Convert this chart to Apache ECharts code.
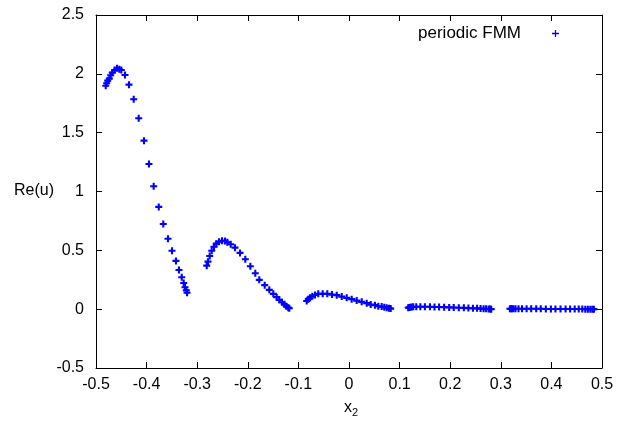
<!DOCTYPE html>
<html><head><meta charset="utf-8">
<script src="https://cdn.jsdelivr.net/npm/echarts@6/dist/echarts.min.js"></script>
<style>html,body{margin:0;padding:0;background:#fff}#c{width:634px;height:427px}</style>
</head><body><div id="c"></div>
<script>
// Segment 1
const x1 = [-0.4808,-0.4789,-0.4769,-0.4737,-0.4710,-0.4678,-0.4630,-0.4585,-0.4540,-0.4500,-0.4427,-0.4348,-0.4255,-0.4156,-0.4051,-0.3953,-0.3860,-0.3760,-0.3670,-0.3577,-0.3498,-0.3420,-0.3360,-0.3306,-0.3267,-0.3241,-0.3215,-0.3200];
const y1 = [1.899,1.920,1.942,1.959,1.988,2.010,2.033,2.047,2.039,2.033,1.990,1.908,1.784,1.622,1.432,1.234,1.045,0.869,0.724,0.599,0.497,0.410,0.333,0.271,0.223,0.186,0.160,0.140];
// Segment 2
const x2 = [-0.2812,-0.2787,-0.2753,-0.2713,-0.2668,-0.2623,-0.2569,-0.2510,-0.2451,-0.2405,-0.2338,-0.2253,-0.2154,-0.2049,-0.1950,-0.1852,-0.1773,-0.1666,-0.1575,-0.1496,-0.1429,-0.1378,-0.1324,-0.1279,-0.1239,-0.1200,-0.1180];
const y2 = [0.370,0.404,0.452,0.497,0.531,0.557,0.574,0.582,0.580,0.569,0.552,0.523,0.478,0.424,0.365,0.305,0.249,0.204,0.164,0.130,0.102,0.079,0.059,0.042,0.025,0.013,0.008];
// Segment 3
const x3 = [-0.0836,-0.0804,-0.0771,-0.0725,-0.0672,-0.0607,-0.0520,-0.0429,-0.0336,-0.0243,-0.0144,-0.0045,0.0053,0.0152,0.0251,0.0350,0.0429,0.0514,0.0579,0.0646,0.0698,0.0745,0.0790,0.0824];
const y3 = [0.070,0.085,0.098,0.110,0.121,0.130,0.130,0.130,0.124,0.119,0.107,0.096,0.085,0.073,0.062,0.051,0.039,0.034,0.025,0.022,0.017,0.011,0.008,0.005];
// Segment 4
const x4 = [0.117,0.119,0.121,0.124,0.127,0.133,0.141,0.150,0.160,0.169,0.178,0.188,0.198,0.207,0.217,0.227,0.236,0.245,0.253,0.260,0.266,0.271,0.276,0.279,0.281];
const y4 = [0.012,0.015,0.017,0.019,0.020,0.021,0.021,0.021,0.020,0.019,0.018,0.017,0.015,0.014,0.012,0.011,0.009,0.008,0.007,0.005,0.004,0.003,0.002,0.001,0.000];
// Segment 5
const x5 = [0.318,0.320,0.322,0.325,0.329,0.335,0.342,0.351,0.360,0.370,0.379,0.389,0.399,0.408,0.418,0.428,0.437,0.446,0.454,0.461,0.467,0.472,0.477,0.481,0.484];
const y5 = [0.003,0.004,0.004,0.004,0.004,0.004,0.004,0.003,0.003,0.003,0.003,0.002,0.002,0.002,0.002,0.001,0.001,0.001,0.001,0.001,0.000,0.000,0.000,0.000,0.000];

const xTicks = {min:-0.5, max:0.5, interval:0.1};
const yTicks = {min:-0.5, max:2.5, interval:0.5};

const segs = [[x1,y1],[x2,y2],[x3,y3],[x4,y4],[x5,y5]];
const data = [];
segs.forEach(([xs,ys]) => xs.forEach((x,i) => data.push([x, ys[i]])));

const plus = 'path://M3.5,0H6.5V3.5H10V6.5H6.5V10H3.5V6.5H0V3.5H3.5Z';
const F = 'Liberation Sans';
const chart = echarts.init(document.getElementById('c'), null, {renderer:'canvas'});
const line = {show:true, onZero:false, lineStyle:{color:'#000', width:1}};
const tick = {show:true, inside:true, length:6, lineStyle:{color:'#000', width:1}};
chart.setOption({
  animation:false,
  color:['#0000ff'],
  grid:{left:96, right:32, top:15, bottom:59, containLabel:false},
  legend:{
    data:['periodic FMM'], right:70, top:20, align:'right',
    itemWidth:7, itemHeight:7, itemGap:10,
    icon:'path://M4.1,0H5.9V4.1H10V5.9H5.9V10H4.1V5.9H0V4.1H4.1Z',
    itemStyle:{color:'#0000ff', borderWidth:0, opacity:1},
    textStyle:{fontFamily:F, fontSize:17, color:'#000', padding:[0,26,0,0]}
  },
  xAxis:[
    {type:'value', min:xTicks.min, max:xTicks.max, interval:xTicks.interval, position:'bottom',
     axisLine:line, axisTick:tick, splitLine:{show:false},
     axisLabel:{fontFamily:F, fontSize:16, color:'#000', margin:9}},
    {type:'value', min:xTicks.min, max:xTicks.max, interval:xTicks.interval, position:'top',
     axisLine:line, axisTick:tick, splitLine:{show:false}, axisLabel:{show:false}}
  ],
  yAxis:[
    {type:'value', min:yTicks.min, max:yTicks.max, interval:yTicks.interval, position:'left',
     axisLine:line, axisTick:tick, splitLine:{show:false},
     axisLabel:{fontFamily:F, fontSize:16, color:'#000', margin:12}},
    {type:'value', min:yTicks.min, max:yTicks.max, interval:yTicks.interval, position:'right',
     axisLine:line, axisTick:tick, splitLine:{show:false}, axisLabel:{show:false}}
  ],
  graphic:[
    {type:'text', left:14, top:183, style:{text:'Re(u)', fontFamily:F, fontSize:16, fill:'#000'}},
    {type:'text', left:344, top:400, style:{
      text:'x{s|2}', fontFamily:F, fontSize:16, fill:'#000',
      rich:{s:{fontFamily:F, fontSize:11, padding:[10,0,0,0], fill:'#000'}}
    }}
  ],
  series:[{
    name:'periodic FMM', type:'scatter', xAxisIndex:0, yAxisIndex:0,
    symbol:plus, symbolSize:7, data:data,
    itemStyle:{color:'#0000ff', opacity:1}
  }]
});
</script></body></html>
